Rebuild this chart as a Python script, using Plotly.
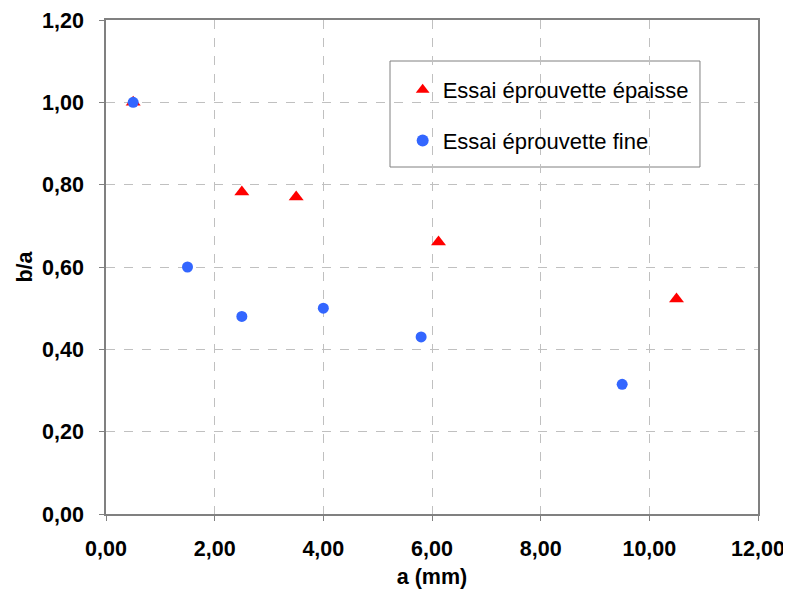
import plotly.graph_objects as go

# Data
epaisse_a = [0.5, 2.5, 3.5, 6.12, 10.5]
epaisse_ba = [1.00, 0.782, 0.77, 0.661, 0.522]
fine_a = [0.5, 1.5, 2.5, 4.0, 5.8, 9.5]
fine_ba = [1.00, 0.60, 0.48, 0.50, 0.43, 0.315]

name_epaisse = "Essai éprouvette épaisse"
name_fine = "Essai éprouvette fine"

FONT = "Liberation Sans, Arial, sans-serif"

fig = go.Figure()
fig.add_trace(go.Scatter(
    x=epaisse_a, y=epaisse_ba, mode="markers", name=name_epaisse,
    legendgroup="g1",
    marker=dict(symbol="triangle-up", size=13, color="#FF0000"),
))
fig.add_trace(go.Scatter(
    x=fine_a, y=fine_ba, mode="markers", name=name_fine,
    legendgroup="g2",
    marker=dict(symbol="circle", size=11, color="#3366FF"),
))

tick_font = dict(family=FONT, size=21.5, color="black", weight="bold")
title_font = dict(family=FONT, size=21.5, color="black")

# legend frame drawn as a shape (paper coordinates)
fig.add_shape(
    type="rect", xref="paper", yref="paper",
    x0=0.4356, x1=0.911, y0=0.7024, y1=0.917,
    line=dict(color="#808080", width=1), fillcolor="white", layer="below",
)

# page body has an 8px margin, so the figure is made 8px smaller
fig.update_layout(
    width=783, height=583,
    margin=dict(l=98, r=33, t=12, b=77, autoexpand=False),
    paper_bgcolor="white", plot_bgcolor="white",
    separators=", ",
    font=dict(family=FONT, color="black"),
    showlegend=True,
    legend=dict(
        x=0.455, y=0.9008, xanchor="left", yanchor="top",
        borderwidth=0, bgcolor="rgba(0,0,0,0)",
        font=dict(family=FONT, size=22, color="black"),
        traceorder="grouped", tracegroupgap=19,
        itemsizing="constant",
    ),
    xaxis=dict(
        range=[0, 12], tick0=0, dtick=2, tickformat=".2f",
        showgrid=True, gridcolor="#C0C0C0", griddash="dash", gridwidth=1,
        showline=True, linecolor="#808080", linewidth=1.5, mirror=True,
        ticks="outside", ticklen=5, tickcolor="#808080",
        zeroline=False, automargin=False,
        tickfont=tick_font,
        ticklabelstandoff=9,
        title=dict(text="<b>a (mm)</b>", font=title_font, standoff=9),
    ),
    yaxis=dict(
        range=[0, 1.2], tick0=0, dtick=0.2, tickformat=".2f",
        showgrid=True, gridcolor="#C0C0C0", griddash="dash", gridwidth=1,
        showline=True, linecolor="#808080", linewidth=1.5, mirror=True,
        ticks="outside", ticklen=5, tickcolor="#808080",
        zeroline=False, automargin=False,
        tickfont=tick_font,
        ticklabelstandoff=11,
        title=dict(text="<b>b/a</b>", font=title_font, standoff=4),
    ),
)

fig.write_html("out.html")
